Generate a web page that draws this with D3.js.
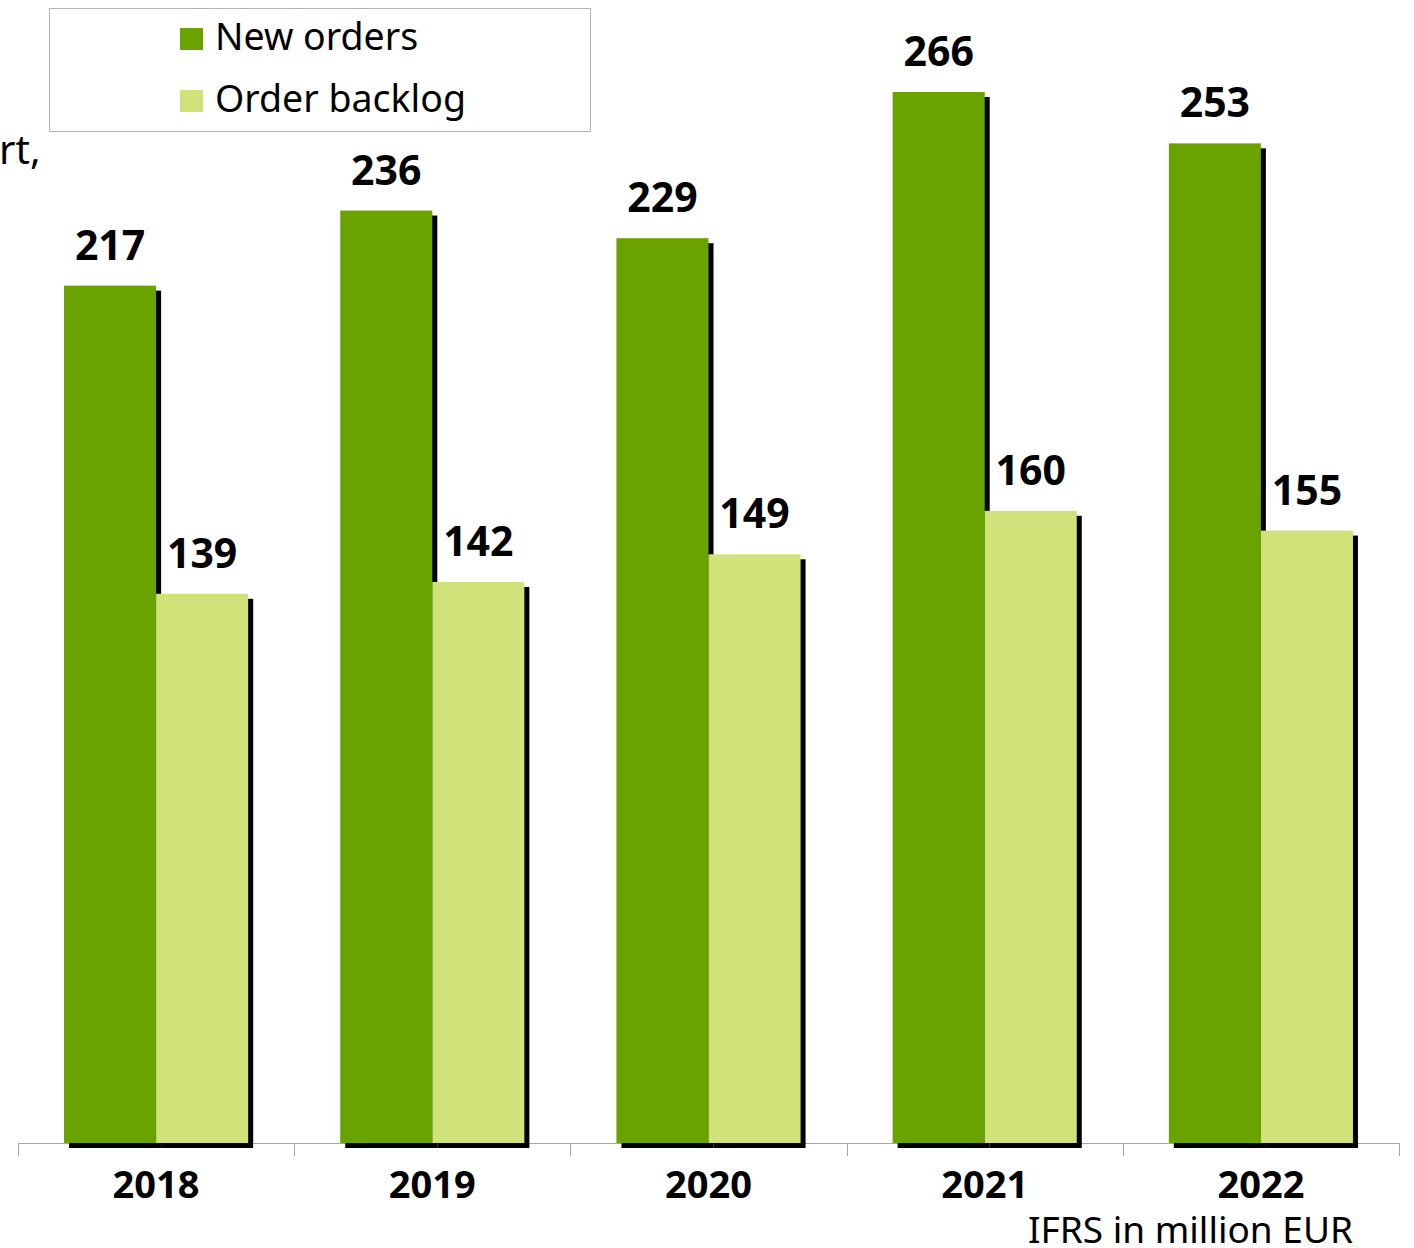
<!DOCTYPE html>
<html><head><meta charset="utf-8">
<script src="https://cdn.jsdelivr.net/npm/d3@7"></script>
<style>html,body{margin:0;padding:0;background:#fff;}svg{display:block;}</style>
</head><body>
<svg id="chart" width="1414" height="1248"></svg>
<script>
const years = ["2018","2019","2020","2021","2022"];
const seriesNames = ["New orders","Order backlog"];
const newOrders = [217,236,229,266,253];
const orderBacklog = [139,142,149,160,155];
const seriesColors = ["#6aa300","#d1e27a"];
const unitNote = "IFRS in million EUR";
const clippedText = "rt,";

const font = "'Noto Sans', 'Open Sans', sans-serif";
const svg = d3.select("#chart");
const baseY = 1143;

const x0 = d3.scaleBand().domain(years).range([18, 1399]).paddingInner(0).paddingOuter(0);
const x1 = d3.scaleBand().domain(seriesNames).range([0, x0.bandwidth()]).paddingInner(0).paddingOuter(0.5);
const y = d3.scaleLinear().domain([0, 266]).range([baseY, 92]);
const color = d3.scaleOrdinal().domain(seriesNames).range(seriesColors);

const rows = years.map((yr, i) => ({year: yr, values: [
  {name: seriesNames[0], value: newOrders[i]},
  {name: seriesNames[1], value: orderBacklog[i]}
]}));

// axis
const axisG = svg.append("g").attr("transform", `translate(0,${baseY})`);
axisG.append("line").attr("x1", 18).attr("x2", 1399).attr("y1", 0.5).attr("y2", 0.5)
  .attr("stroke", "#a6a6a6").attr("stroke-width", 1);
const tickXs = years.map(d => x0(d)).concat([x0.range()[1]]);
axisG.selectAll("line.tick").data(tickXs).join("line").attr("class","tick")
  .attr("x1", d => Math.round(d) + 0.5).attr("x2", d => Math.round(d) + 0.5)
  .attr("y1", 0).attr("y2", 13).attr("stroke", "#a6a6a6").attr("stroke-width", 1);

const groups = svg.selectAll("g.grp").data(rows).join("g").attr("class","grp")
  .attr("transform", d => `translate(${x0(d.year)},0)`);

// shadows
groups.selectAll("rect.sh").data(d => d.values).join("rect").attr("class","sh")
  .attr("x", d => x1(d.name) + 5).attr("y", d => y(d.value) + 5)
  .attr("width", x1.bandwidth()).attr("height", d => baseY - y(d.value))
  .attr("fill", "#000");

// bars
groups.selectAll("rect.bar").data(d => d.values).join("rect").attr("class","bar")
  .attr("x", d => x1(d.name)).attr("y", d => y(d.value))
  .attr("width", x1.bandwidth()).attr("height", d => baseY - y(d.value))
  .attr("fill", d => color(d.name));

// value labels
groups.selectAll("text.val").data(d => d.values).join("text").attr("class","val")
  .attr("x", d => x1(d.name) + x1.bandwidth()/2).attr("y", d => y(d.value) - 26)
  .attr("text-anchor", "middle").attr("font-family", font).attr("font-weight", "bold")
  .attr("font-size", 41).attr("fill", "#000").text(d => d.value);

// year labels
svg.selectAll("text.yr").data(years).join("text").attr("class","yr")
  .attr("x", d => x0(d) + x0.bandwidth()/2).attr("y", 1198)
  .attr("text-anchor", "middle").attr("font-family", font).attr("font-weight", "bold")
  .attr("font-size", 38).attr("fill", "#000").text(d => d);

// unit note
svg.append("text").attr("x", 1353).attr("y", 1243).attr("text-anchor", "end")
  .attr("font-family", font).attr("font-size", 37).attr("fill", "#000").text(unitNote);

// clipped text at left
svg.append("text").attr("x", -1).attr("y", 164)
  .attr("font-family", font).attr("font-size", 40).attr("fill", "#000").text(clippedText);

// legend
const lg = svg.append("g");
lg.append("rect").attr("x", 49.5).attr("y", 8.5).attr("width", 541).attr("height", 123)
  .attr("fill", "#fff").attr("stroke", "#b3b3b3").attr("stroke-width", 1);
const li = lg.selectAll("g.li").data(seriesNames).join("g").attr("class","li")
  .attr("transform", (d, i) => `translate(180,${28 + i * 62})`);
li.append("rect").attr("width", 23).attr("height", 22).attr("fill", d => color(d));
li.append("text").attr("x", 35).attr("y", 22).attr("font-family", font)
  .attr("font-size", 37.5).attr("fill", "#000").text(d => d);
</script>
</body></html>
